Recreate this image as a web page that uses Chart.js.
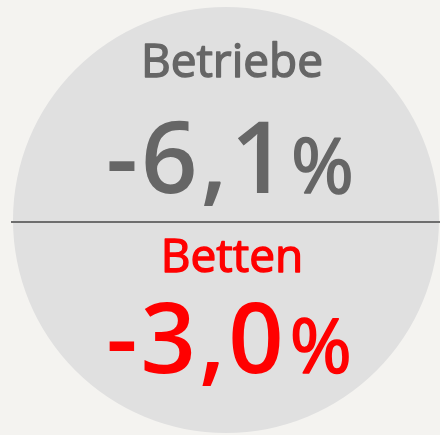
<!DOCTYPE html>
<html><head><meta charset="utf-8">
<script src="https://cdn.jsdelivr.net/npm/chart.js@4"></script>
<style>html,body{margin:0;padding:0;background:#f4f3f0;}canvas{display:block;}</style>
</head><body>
<canvas id="c" width="440" height="435"></canvas>
<script>
// Data
const categories = ["Betriebe", "Betten"];
const changes = [-6.1, -3.0];
const textColors = ["#666666", "#ff0000"];
const circleShare = [100];

function fmt(v){ return (v<0?"-":"") + Math.abs(v).toFixed(1).replace(".", ","); }

const overlay = {
  id: "overlay",
  afterDatasetsDraw(chart){
    const ctx = chart.ctx;
    const arc = chart.getDatasetMeta(0).data[0];
    const cx = arc.x + 6, cy = arc.y;
    ctx.save();
    ctx.strokeStyle = "#6e6e6e"; ctx.lineWidth = 2;
    ctx.beginPath(); ctx.moveTo(arc.x - arc.outerRadius - 2, cy + 2); ctx.lineTo(440, cy + 2); ctx.stroke();
    ctx.textBaseline = "alphabetic";
    ctx.lineJoin = "round";
    const cfg = [
      {labelY: 77, numY: 193, labelSize: 46, numSize: 99, pctSize: 76, shift: -2, gap: 1},
      {labelY: 272, numY: 373, labelSize: 46, numSize: 97, pctSize: 75, shift: -3, gap: 3}
    ];
    const FF = "px 'Open Sans'";
    categories.forEach((cat, i) => {
      const c = cfg[i];
      ctx.fillStyle = textColors[i];
      ctx.strokeStyle = textColors[i];
      ctx.textAlign = "center";
      ctx.letterSpacing = "0px";
      ctx.font = "400 " + c.labelSize + FF;
      ctx.lineWidth = 1.4;
      ctx.fillText(cat, cx, c.labelY);
      ctx.strokeText(cat, cx, c.labelY);
      const num = fmt(changes[i]);
      ctx.letterSpacing = "3px";
      ctx.font = "600 " + c.numSize + FF;
      const w1 = ctx.measureText(num).width;
      ctx.letterSpacing = "0px";
      ctx.font = "400 " + c.pctSize + FF;
      const w2 = ctx.measureText("%").width;
      const x0 = cx + c.shift - (w1 + c.gap + w2) / 2;
      ctx.textAlign = "left";
      ctx.letterSpacing = "3px";
      ctx.font = "600 " + c.numSize + FF;
      ctx.fillText(num, x0, c.numY);
      ctx.letterSpacing = "0px";
      ctx.font = "400 " + c.pctSize + FF;
      ctx.lineWidth = 1.6;
      ctx.fillText("%", x0 + w1 + c.gap, c.numY);
      ctx.strokeText("%", x0 + w1 + c.gap, c.numY);
    });
    ctx.restore();
  }
};

new Chart(document.getElementById("c"), {
  type: "pie",
  data: { labels: ["Kreis"], datasets: [{ data: circleShare, backgroundColor: ["#e0e0e0"], borderWidth: 0 }] },
  options: {
    responsive: false, animation: false,
    layout: { padding: { left: 13, right: 1, top: 7, bottom: 2 } },
    plugins: { legend: { display: false }, tooltip: { enabled: false } }
  },
  plugins: [overlay]
});
</script>
</body></html>
